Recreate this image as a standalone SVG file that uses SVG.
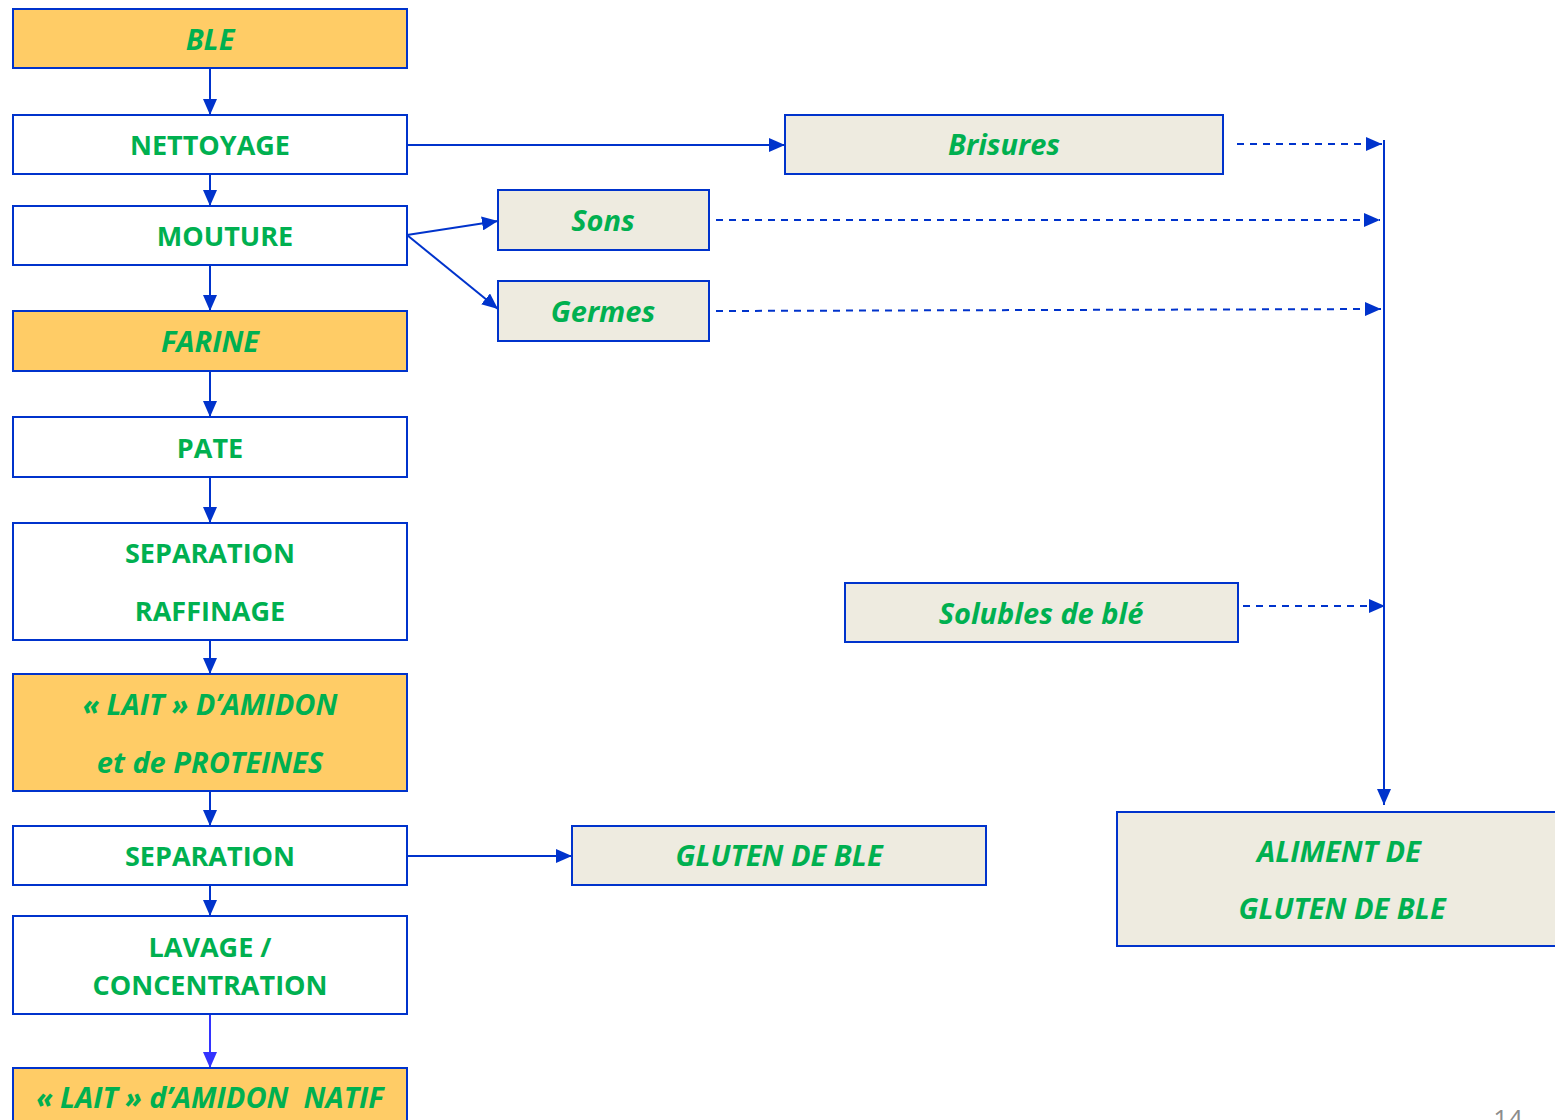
<svg xmlns="http://www.w3.org/2000/svg" width="1555" height="1120" viewBox="0 0 1555 1120">
<defs>
<style>
.box{stroke:#0033CC;stroke-width:2}
.w{fill:#FFFFFF}
.o{fill:#FFCC66}
.b{fill:#EEEBE0}
.t{font-family:"Open Sans","Liberation Sans",sans-serif;font-weight:bold;font-size:27px;fill:#00B050;text-anchor:middle}
.i{font-style:italic;font-size:29px}
.ln{stroke:#0033CC;stroke-width:2;fill:none}
.dash{stroke:#0033CC;stroke-width:2;fill:none;stroke-dasharray:7,6}
</style>
<marker id="ah" viewBox="0 0 16 14" refX="16" refY="7" markerWidth="16" markerHeight="14" markerUnits="userSpaceOnUse" orient="auto">
<path d="M0,0 L16,7 L0,14 Z" fill="#0033CC"/>
</marker>
<marker id="ah2" viewBox="0 0 16 14" refX="16" refY="7" markerWidth="16" markerHeight="14" markerUnits="userSpaceOnUse" orient="auto">
<path d="M0,0 L16,7 L0,14 Z" fill="#3333FF"/>
</marker>
</defs>
<rect width="1555" height="1120" fill="#FFFFFF"/>

<g id="connectors">
<line class="ln" x1="210" y1="68" x2="210" y2="115" marker-end="url(#ah)"/>
<line class="ln" x1="210" y1="174" x2="210" y2="206" marker-end="url(#ah)"/>
<line class="ln" x1="210" y1="265" x2="210" y2="311" marker-end="url(#ah)"/>
<line class="ln" x1="210" y1="371" x2="210" y2="417" marker-end="url(#ah)"/>
<line class="ln" x1="210" y1="477" x2="210" y2="523" marker-end="url(#ah)"/>
<line class="ln" x1="210" y1="640" x2="210" y2="674" marker-end="url(#ah)"/>
<line class="ln" x1="210" y1="791" x2="210" y2="826" marker-end="url(#ah)"/>
<line class="ln" x1="210" y1="885" x2="210" y2="916" marker-end="url(#ah)"/>
<line x1="210" y1="1014" x2="210" y2="1068" stroke="#3333FF" stroke-width="2" marker-end="url(#ah2)"/>
<line class="ln" x1="407" y1="145" x2="785" y2="145" marker-end="url(#ah)"/>
<line class="ln" x1="407" y1="235" x2="498" y2="221" marker-end="url(#ah)"/>
<line class="ln" x1="407" y1="235" x2="498" y2="309" marker-end="url(#ah)"/>
<line class="ln" x1="407" y1="856" x2="572" y2="856" marker-end="url(#ah)"/>
<line class="dash" x1="1237" y1="144" x2="1382" y2="144" marker-end="url(#ah)"/>
<line class="dash" x1="716" y1="220" x2="1380" y2="220" marker-end="url(#ah)"/>
<line class="dash" x1="716" y1="311" x2="1381" y2="309" marker-end="url(#ah)"/>
<line class="dash" x1="1243" y1="606" x2="1385" y2="606" marker-end="url(#ah)"/>
<line class="ln" x1="1384" y1="140" x2="1384" y2="805" marker-end="url(#ah)"/>
</g>

<g id="ble"><rect class="box o" x="13" y="9" width="394" height="59"/><text class="t i" x="210" y="50">BLE</text></g>
<g id="nettoyage"><rect class="box w" x="13" y="115" width="394" height="59"/><text class="t" x="210" y="155">NETTOYAGE</text></g>
<g id="mouture"><rect class="box w" x="13" y="206" width="394" height="59"/><text class="t" x="225" y="246">MOUTURE</text></g>
<g id="farine"><rect class="box o" x="13" y="311" width="394" height="60"/><text class="t i" x="210" y="352">FARINE</text></g>
<g id="pate"><rect class="box w" x="13" y="417" width="394" height="60"/><text class="t" x="210" y="458">PATE</text></g>
<g id="separation-raffinage"><rect class="box w" x="13" y="523" width="394" height="117"/><text class="t" x="210" y="563">SEPARATION</text><text class="t" x="210" y="621">RAFFINAGE</text></g>
<g id="lait-amidon"><rect class="box o" x="13" y="674" width="394" height="117"/><text class="t i" x="210" y="715">« LAIT » D’AMIDON</text><text class="t i" x="210" y="773">et de PROTEINES</text></g>
<g id="separation"><rect class="box w" x="13" y="826" width="394" height="59"/><text class="t" x="210" y="866">SEPARATION</text></g>
<g id="lavage"><rect class="box w" x="13" y="916" width="394" height="98"/><text class="t" x="210" y="957">LAVAGE /</text><text class="t" x="210" y="995">CONCENTRATION</text></g>
<g id="lait-natif"><rect class="box o" x="13" y="1068" width="394" height="60"/><text class="t i" x="210" y="1108" xml:space="preserve">« LAIT » d’AMIDON  NATIF</text></g>

<g id="brisures"><rect class="box b" x="785" y="115" width="438" height="59"/><text class="t i" x="1004" y="155">Brisures</text></g>
<g id="sons"><rect class="box b" x="498" y="190" width="211" height="60"/><text class="t i" x="603" y="231">Sons</text></g>
<g id="germes"><rect class="box b" x="498" y="281" width="211" height="60"/><text class="t i" x="603" y="322">Germes</text></g>
<g id="solubles"><rect class="box b" x="845" y="583" width="393" height="59"/><text class="t i" x="1041" y="624">Solubles de blé</text></g>
<g id="gluten"><rect class="box b" x="572" y="826" width="414" height="59"/><text class="t i" x="779" y="866">GLUTEN DE BLE</text></g>
<g id="aliment"><rect class="box b" x="1117" y="812" width="450" height="134"/><text class="t i" x="1339" y="862">ALIMENT DE</text><text class="t i" x="1342" y="919">GLUTEN DE BLE</text></g>

<text x="1508" y="1128" font-family="'Open Sans','Liberation Sans',sans-serif" font-size="26" fill="#8C8C8C" text-anchor="middle">14</text>
</svg>
